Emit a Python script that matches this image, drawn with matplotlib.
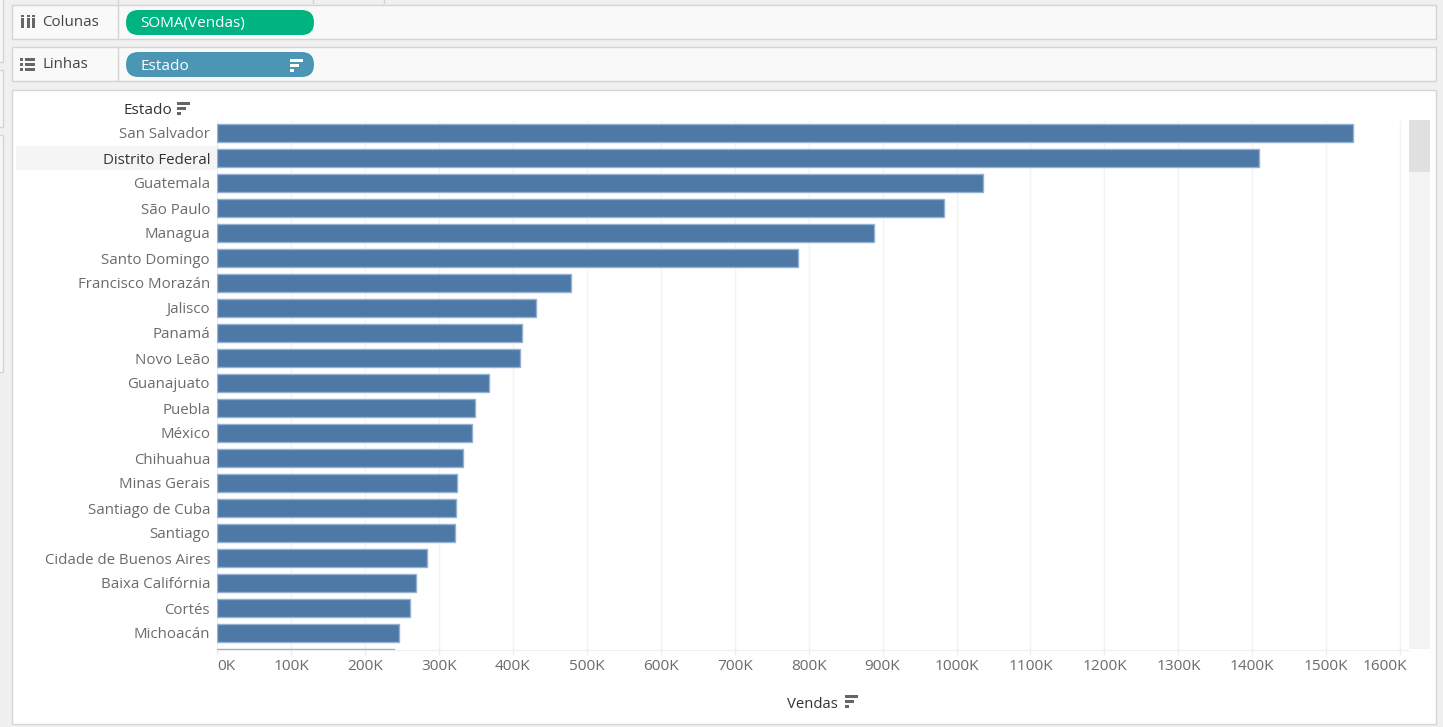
import matplotlib
matplotlib.use('Agg')
import matplotlib.pyplot as plt
from matplotlib.patches import Rectangle, FancyBboxPatch
from matplotlib.transforms import ScaledTranslation

W, H = 1443, 727
DPI = 100

estados = ['San Salvador', 'Distrito Federal', 'Guatemala', 'São Paulo', 'Managua',
           'Santo Domingo', 'Francisco Morazán', 'Jalisco', 'Panamá', 'Novo Leão',
           'Guanajuato', 'Puebla', 'México', 'Chihuahua', 'Minas Gerais',
           'Santiago de Cuba', 'Santiago', 'Cidade de Buenos Aires', 'Baixa Califórnia',
           'Cortés', 'Michoacán', '']
vendas = [1536, 1409, 1036, 983, 888, 786, 479, 431, 413, 410, 368, 349, 345.5, 332,
          325, 323, 322, 284, 269, 261, 245.5, 239]
ticks = list(range(0, 1700, 100))
tick_labels = ['%dK' % t for t in ticks]

plt.rcParams['font.family'] = ['Open Sans', 'DejaVu Sans']

GRAY = '#6b6b6b'
DARK = '#333333'
BORDER = '#d4d4d4'
FS = 11.1
FS_LABEL = 10.8

fig = plt.figure(figsize=(W / DPI, H / DPI), dpi=DPI, facecolor='#f0f0f0')

# background layer in pixel coordinates for the shelves and panels
bg = fig.add_axes([0, 0, 1, 1])
bg.set_xlim(0, W)
bg.set_ylim(H, 0)
bg.axis('off')


def box(x0, y0, x1, y1, face, edge='none', lw=1):
    bg.add_patch(Rectangle((x0, y0), x1 - x0, y1 - y0, facecolor=face, edgecolor=edge, linewidth=lw))


def pill(x0, y0, x1, y1, color):
    r = (y1 - y0) / 2
    bg.add_patch(FancyBboxPatch((x0, y0), x1 - x0, y1 - y0,
                                boxstyle='round,pad=0,rounding_size=%f' % r,
                                facecolor=color, edgecolor='none'))


def sort_icon(x, y, color):
    # three bars, longest on top
    box(x, y, x + 13, y + 3, color)
    box(x, y + 5, x + 8.5, y + 8, color)
    box(x, y + 10, x + 4, y + 13, color)


# leftovers of the side cards and the top strip
for y0, y1 in [(-2, 62), (70, 127), (135, 372)]:
    box(-5, y0, 3, y1, '#f7f7f7', BORDER)
for x in [118, 313, 384]:
    bg.plot([x, x], [0, 3], color=BORDER, lw=1)

# shelves
for y0, y1 in [(5, 39), (47, 81)]:
    box(12, y0, 1436, y1, '#f9f9f9', BORDER)
    bg.plot([118, 118], [y0, y1], color=BORDER, lw=1)
pill(126, 10, 314, 35, '#00b482')
pill(126, 52, 314, 77, '#4b96b5')
bg.text(140, 24, 'SOMA(Vendas)', color='white', fontsize=FS - 0.1, ha='left', va='center')
bg.text(140, 66, 'Estado', color='white', fontsize=FS, ha='left', va='center')
sort_icon(290, 59, 'white')
bg.text(42, 23, 'Colunas', color='#444444', fontsize=10.9, ha='left', va='center')
bg.text(42, 65, 'Linhas', color='#444444', fontsize=10.9, ha='left', va='center')

# shelf icons
for x in [21, 26.5, 31.5]:
    box(x, 18, x + 3, 28, '#666666')
    box(x, 15, x + 3, 17, '#666666')
for y in [58, 63, 68]:
    box(20, y, 23, y + 2.6, '#666666')
    box(25, y, 35, y + 2.6, '#666666')

# main panel
box(12, 90, 1436, 724, 'white', BORDER)
box(16, 146, 217, 170, '#f5f5f5')
box(1409, 120, 1430, 649, '#f3f3f3')
box(1409, 120, 1430, 172, '#e0e0e0')
bg.text(172, 111, 'Estado', color=DARK, fontsize=FS, ha='right', va='center')
sort_icon(177, 102, '#666666')
bg.text(838, 704, 'Vendas', color=DARK, fontsize=10.7, ha='right', va='center')
sort_icon(845, 695, '#666666')

# the chart itself
px_per_k = 0.7395
left, right, top, bottom = 217, 1408, 120.5, 649.5
ax = fig.add_axes([left / W, 1 - bottom / H, (right - left) / W, (bottom - top) / H])
ax.patch.set_alpha(0)
ax.barh(range(len(estados)), vendas, height=0.75, color='#4e79a7',
        edgecolor='#93b1d3', linewidth=1, zorder=3)
ax.set_xlim(0, (right - left) / px_per_k)
ax.set_ylim((bottom - 133) / 25, (top - 133) / 25)

ax.set_yticks(range(21))
ax.set_yticklabels(estados[:21], fontsize=FS_LABEL, color=GRAY)
ax.get_yticklabels()[1].set_color(DARK)
ax.tick_params(axis='y', length=0, pad=5)

ax.set_xticks(ticks)
ax.set_xticklabels(tick_labels, fontsize=FS, color=GRAY)
ax.tick_params(axis='x', length=3.6, width=1, color='#eeeeee', pad=3.5)

# first and last labels are pushed inside the axis range in the reference
xlabels = ax.get_xticklabels()
xlabels[0].set_ha('left')
xlabels[-1].set_transform(xlabels[-1].get_transform() + ScaledTranslation(-15 / DPI, 0, fig.dpi_scale_trans))

ax.grid(axis='x', color='#f3f3f3', lw=1, zorder=0)
for side in ['top', 'right']:
    ax.spines[side].set_visible(False)
for side in ['left', 'bottom']:
    ax.spines[side].set_color('#eeeeee')

fig.savefig('out.png', dpi=DPI, facecolor=fig.get_facecolor())
